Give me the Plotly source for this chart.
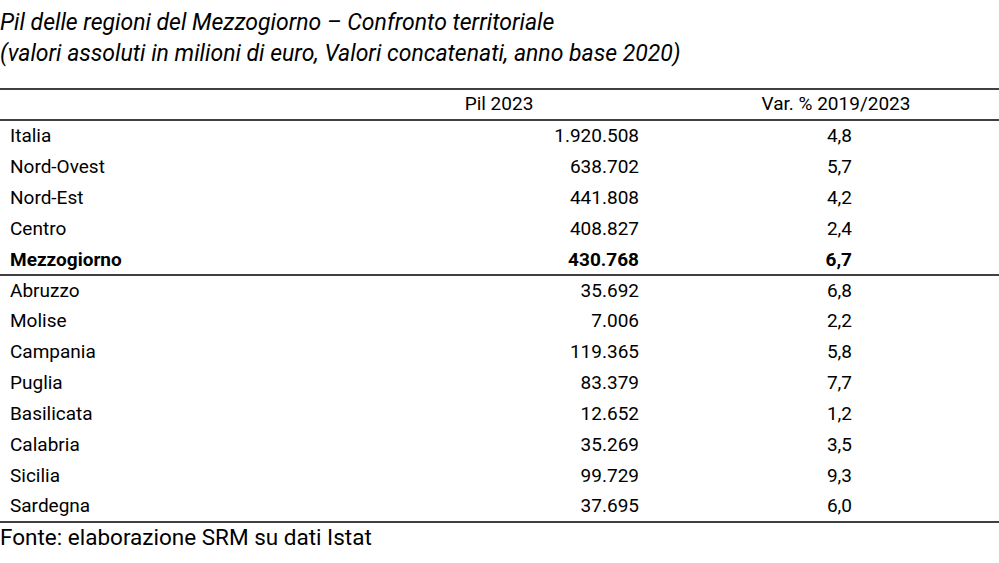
import plotly.graph_objects as go

# dati
regioni = ["Italia", "Nord-Ovest", "Nord-Est", "Centro", "Mezzogiorno",
           "Abruzzo", "Molise", "Campania", "Puglia", "Basilicata",
           "Calabria", "Sicilia", "Sardegna"]
pil_2023 = ["1.920.508", "638.702", "441.808", "408.827", "430.768",
            "35.692", "7.006", "119.365", "83.379", "12.652",
            "35.269", "99.729", "37.695"]
var_19_23 = ["4,8", "5,7", "4,2", "2,4", "6,7",
             "6,8", "2,2", "5,8", "7,7", "1,2",
             "3,5", "9,3", "6,0"]
intestazioni = ["Pil 2023", "Var. % 2019/2023"]
bold_row = "Mezzogiorno"

FONT = "Roboto"
W, H = 999, 563
ROW0, STEP = 137.5, 30.85

rows = [ROW0 + i * STEP for i in range(len(regioni))]

def fmt(vals):
    return [f"<b>{v}</b>" if r == bold_row else v for v, r in zip(vals, regioni)]

body = dict(size=19, color="black", family=FONT)

fig = go.Figure()
fig.add_trace(go.Scatter(x=[10] * len(regioni), y=rows, text=fmt(regioni),
                         mode="text", textposition="middle right",
                         textfont=body, hoverinfo="skip"))
fig.add_trace(go.Scatter(x=[639] * len(regioni), y=rows, text=fmt(pil_2023),
                         mode="text", textposition="middle left",
                         textfont=body, hoverinfo="skip"))
fig.add_trace(go.Scatter(x=[852] * len(regioni), y=rows, text=fmt(var_19_23),
                         mode="text", textposition="middle left",
                         textfont=body, hoverinfo="skip"))
# intestazione
fig.add_trace(go.Scatter(x=[499, 836], y=[105.5, 105.5], text=intestazioni,
                         mode="text", textposition="middle center",
                         textfont=body, hoverinfo="skip"))

# linee orizzontali
for yl in [89, 120, 275, 522]:
    fig.add_shape(type="line", xref="paper", x0=0, x1=1, y0=yl, y1=yl,
                  line=dict(color="black", width=1.3))

titoli = [
    ("<i>Pil delle regioni del Mezzogiorno – Confronto territoriale</i>", 22.5, 23),
    ("<i>(valori assoluti in milioni di euro, Valori concatenati, anno base 2020)</i>", 53.5, 23),
    ("Fonte: elaborazione SRM su dati Istat", 537, 22.5),
]
for txt, yy, sz in titoli:
    fig.add_annotation(x=0, y=yy, xref="paper", yref="y", xanchor="left",
                       showarrow=False, borderpad=0, xshift=-1, text=txt,
                       font=dict(size=sz, color="black", family=FONT))

fig.update_layout(
    width=W, height=H,
    margin=dict(l=0, r=0, t=0, b=0),
    paper_bgcolor="white", plot_bgcolor="white",
    showlegend=False,
    xaxis=dict(range=[0, W], visible=False, fixedrange=True),
    yaxis=dict(range=[H, 0], visible=False, fixedrange=True),
)

fig.write_html("out.html", config={"displayModeBar": False},
               post_script="document.body.style.margin='0';document.body.style.overflow='hidden';")
